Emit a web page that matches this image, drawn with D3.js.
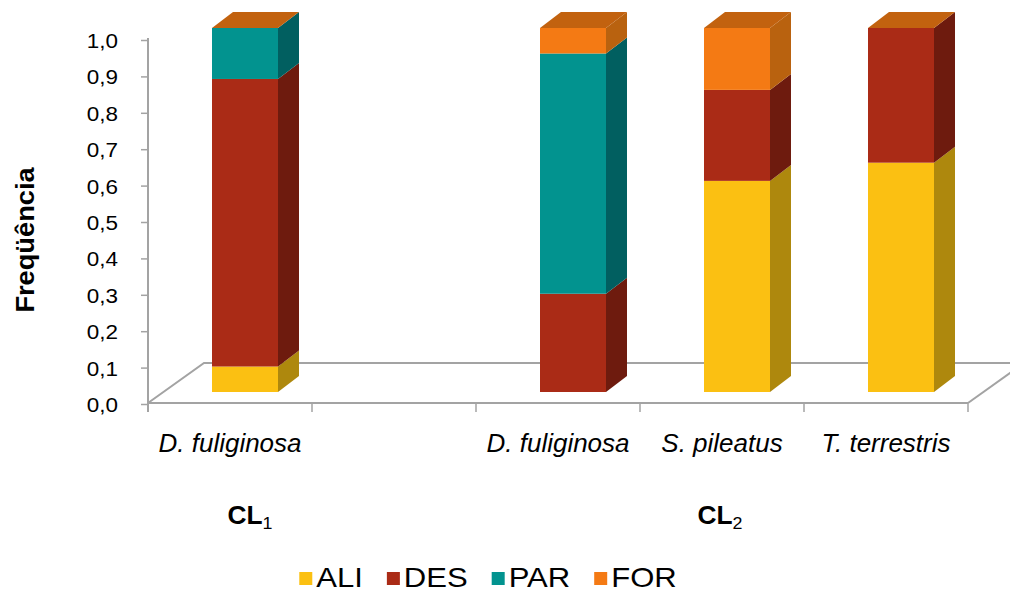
<!DOCTYPE html>
<html><head><meta charset="utf-8">
<script src="https://cdn.jsdelivr.net/npm/d3@7/dist/d3.min.js"></script>
<style>body{margin:0;background:#fff}svg{display:block}text{font-family:"Liberation Sans",Arial,sans-serif}</style>
</head><body>
<svg id="c" width="1010" height="592"></svg>
<script>
const categories = ["D. fuliginosa", "", "D. fuliginosa", "S. pileatus", "T. terrestris"];
const groups = [{label: "CL", sub: "1", from: 0, to: 0}, {label: "CL", sub: "2", from: 2, to: 4}];
const seriesNames = ["ALI", "DES", "PAR", "FOR"];
const ALI = [0.07, 0, 0, 0.58, 0.63];
const DES = [0.79, 0, 0.27, 0.25, 0.37];
const PAR = [0.14, 0, 0.66, 0, 0];
const FOR = [0, 0, 0.07, 0.17, 0];
const yTicks = [0, 0.1, 0.2, 0.3, 0.4, 0.5, 0.6, 0.7, 0.8, 0.9, 1.0];
const yTitle = "Freqüência";

const series = [ALI, DES, PAR, FOR];
const frontCol = ["#FBC012", "#AA2B16", "#02938F", "#F47A14"];
const sideCol = ["#AE880D", "#6E1B0E", "#015F60", "#B9620F"];
const topCol = "#C2620F";
const axisCol = "#A3A3A3";

const svg = d3.select("#c");
const x = d3.scaleBand().domain(d3.range(categories.length)).range([148, 968]).padding(0);
const y = d3.scaleLinear().domain([0, 1]).range([404, 40]);

// floor
const fdx = 56, fdy = -40;
const y0 = y(0) - 1;
const floor = svg.append("g").attr("fill", "none").attr("stroke", axisCol).attr("stroke-width", 2);
floor.append("path").attr("d", `M${x.range()[0]},${y0} L${x.range()[0]+fdx},${y0+fdy} L${x.range()[1]+fdx+10},${y0+fdy}`);
floor.append("path").attr("d", `M${x.range()[1]},${y0} L${x.range()[1]+fdx},${y0+fdy}`);

// y axis
const yAxis = d3.axisLeft(y).tickValues(yTicks).tickSize(7).tickFormat(d => d3.format(".1f")(d).replace(".", ","));
const gy = svg.append("g").attr("transform", "translate(148,0)").call(yAxis);
gy.select(".domain").attr("stroke", axisCol).attr("stroke-width", 2).attr("d", `M0,${y(1)-2}V${y(0)+8}`);
gy.selectAll(".tick line").attr("stroke", axisCol).attr("stroke-width", 1.5);
gy.selectAll(".tick text").remove();
gy.selectAll(".tick").each(function(d) {
  d3.select(this).append("g").attr("transform", "translate(-30,0) scale(1.07,1)")
    .append("text").attr("text-anchor", "end").attr("dy", "0.36em")
    .attr("font-size", 21).attr("fill", "#000").text(d3.format(".1f")(d).replace(".", ","));
});

// x axis front line + ticks
const gx = svg.append("g").attr("stroke", axisCol).attr("stroke-width", 2);
gx.append("line").attr("x1", x.range()[0]).attr("x2", x.range()[1]).attr("y1", y0).attr("y2", y0);
const bounds = d3.range(categories.length + 1).map(i => i < categories.length ? x(i) : x.range()[1]);
gx.selectAll("line.t").data(bounds).join("line").attr("class", "t")
  .attr("x1", d => d).attr("x2", d => d).attr("y1", y0).attr("y2", y0 + 9).attr("stroke-width", 1.5);

// bars
const bdx = 21, bdy = -16, offX = 64, offY = -12, bw = 66;
categories.forEach((c, i) => {
  const g = svg.append("g");
  const x1 = x(i) + offX, x2 = x1 + bw;
  let cum = 0;
  let segs = [];
  series.forEach((s, k) => {
    if (s[i] > 0) { segs.push({k, a: cum, b: cum + s[i]}); cum += s[i]; }
  });
  if (!segs.length) return;
  segs.forEach(sg => {
    const yb = y(sg.a) + offY, yt = y(sg.b) + offY;
    g.append("rect").attr("x", x1).attr("y", yt).attr("width", bw).attr("height", yb - yt).attr("fill", frontCol[sg.k]);
    g.append("path").attr("d", `M${x2},${yb} L${x2},${yt} L${x2+bdx},${yt+bdy} L${x2+bdx},${yb+bdy} Z`).attr("fill", sideCol[sg.k]);
  });
  const ytop = y(cum) + offY;
  g.append("path").attr("d", `M${x1},${ytop} L${x2},${ytop} L${x2+bdx},${ytop+bdy} L${x1+bdx},${ytop+bdy} Z`).attr("fill", topCol);
});

// category labels
categories.forEach((c, i) => {
  if (!c) return;
  svg.append("g").attr("transform", `translate(${x(i) + x.bandwidth()/2},452) scale(1.04,1)`)
    .append("text").attr("text-anchor", "middle").attr("font-size", 25).attr("font-style", "italic").attr("fill", "#000").text(c);
});

// group labels
const groupCenters = [250, 720];
groups.forEach((gr, j) => {
  const t = svg.append("g").attr("transform", `translate(${groupCenters[j]},524) scale(1.05,1)`)
    .append("text").attr("text-anchor", "middle").attr("font-size", 25).attr("font-weight", "bold").attr("fill", "#000");
  t.append("tspan").text(gr.label);
  t.append("tspan").attr("font-size", 17).attr("font-weight", "normal").attr("dy", 5).text(gr.sub);
});

// y title
svg.append("g").attr("transform", "translate(34,240) rotate(-90) scale(1.09,1)")
  .append("text").attr("text-anchor", "middle").attr("font-size", 25).attr("font-weight", "bold").attr("fill", "#000").text(yTitle);

// legend
const lg = svg.append("g");
const sx = 1.15, fs = 27, gap = 24;
let cx = 0;
const items = [];
seriesNames.forEach((n, k) => {
  const it = lg.append("g");
  it.append("rect").attr("x", 0).attr("y", 572).attr("width", 13).attr("height", 13).attr("fill", frontCol[k]);
  const tg = it.append("g").attr("transform", `translate(17,587) scale(${sx},1)`);
  const t = tg.append("text").attr("font-size", fs).attr("fill", "#000").text(n);
  const w = 17 + t.node().getComputedTextLength() * sx;
  items.push({it, x: cx});
  cx += w + gap;
});
const total = cx - gap;
const start = 488 - total / 2;
items.forEach(d => d.it.attr("transform", `translate(${start + d.x},0)`));
</script>
</body></html>
